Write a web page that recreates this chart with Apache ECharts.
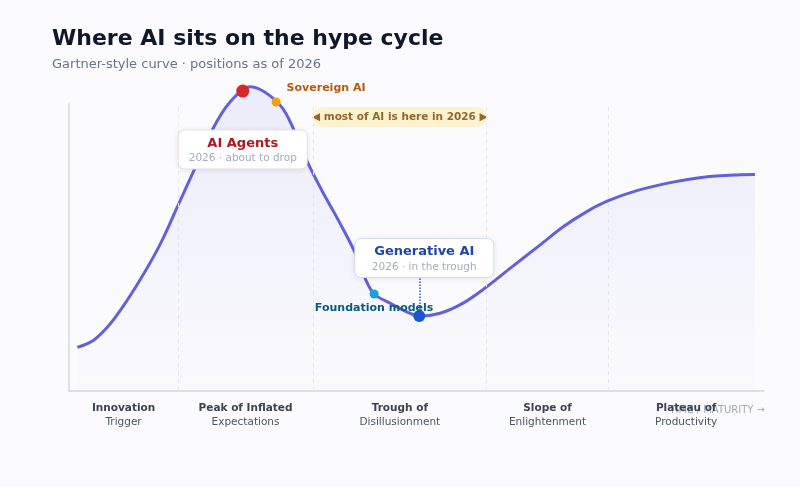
<!DOCTYPE html>
<html>
<head>
<meta charset="utf-8">
<script src="https://cdn.jsdelivr.net/npm/echarts@6/dist/echarts.min.js"></script>
<style>
  html, body { margin: 0; padding: 0; background: #fbfbfd; }
  #chart { width: 800px; height: 487px; }
</style>
</head>
<body>
<div id="chart"></div>
<script>
// phases along the time axis (0..100)
const phaseNames = [
  ['Innovation', 'Trigger'],
  ['Peak of Inflated', 'Expectations'],
  ['Trough of', 'Disillusionment'],
  ['Slope of', 'Enlightenment'],
  ['Plateau of', 'Productivity']
];
const phaseBounds = [15.7, 35.1, 60.1, 77.6];

// hype curve
const curveX = [1.2, 3.6, 6.0, 8.4, 10.8, 13.2, 15.6, 18.0, 20.6, 23.0, 26.1, 28.8, 31.2, 34.4, 36.6, 39.0, 41.2, 42.6, 43.9, 46.2, 48.6, 50.4, 53.4, 56.7, 60.1, 63.5, 67.8, 71.1, 74.5, 77.6, 81.7, 86.5, 91.3, 96.1, 98.7];
const curveY = [0.152, 0.178, 0.236, 0.317, 0.410, 0.515, 0.642, 0.770, 0.909, 1.002, 1.060, 1.031, 0.968, 0.793, 0.689, 0.584, 0.480, 0.393, 0.338, 0.306, 0.276, 0.261, 0.271, 0.306, 0.363, 0.428, 0.509, 0.572, 0.625, 0.663, 0.698, 0.726, 0.745, 0.753, 0.754];

// technologies placed on the curve
const techNames = ['AI Agents', 'Sovereign AI', 'Foundation models', 'Generative AI'];
const techX = [25.0, 29.8, 43.9, 50.4];
const techY = [1.045, 1.007, 0.338, 0.261];
const techNotes = ['2026 · about to drop', '', '', '2026 · in the trough'];

const bandText = '◀ most of AI is here in 2026 ▶';
const axisTitle = 'TIME / MATURITY →';

(()=>{
  const chart = echarts.init(document.getElementById('chart'));
  const font = 'DejaVu Sans, sans-serif';

  const edges = [0].concat(phaseBounds, [100]);
  const phaseCenters = phaseNames.map((p, i)=> (edges[i] + edges[i + 1]) / 2);

  const colors = ['#dc2626', '#f29e12', '#16a3dc', '#1d55d8'];
  const sizes = [13, 9, 9, 12];

  const callout = (title, note, tColor, bColor, pos, w)=>({
    show: true,
    position: pos,
    distance: 33,
    formatter: `{t|${title}}\n{s|${note}}`,
    backgroundColor: '#ffffff',
    borderColor: bColor,
    borderWidth: 1,
    borderRadius: 6,
    padding: [5, 12, 3, 12],
    width: w,
    align: 'center',
    shadowBlur: 6,
    shadowColor: 'rgba(30,40,80,0.08)',
    shadowOffsetY: 1,
    rich: {
      t: { fontFamily: font, fontSize: 13, fontWeight: 'bold', color: tColor, lineHeight: 16, align: 'center' },
      s: { fontFamily: font, fontSize: 10.5, color: '#a3abba', lineHeight: 14, align: 'center' }
    }
  });

  const labels = [
    callout(techNames[0], techNotes[0], '#b3171e', '#efe6e8', 'bottom', 104),
    { show: true, position: 'right', distance: 6, offset: [0, -14], formatter: techNames[1],
      fontFamily: font, fontSize: 11, fontWeight: 'bold', color: '#b45a0e' },
    { show: true, position: 'bottom', distance: 4, formatter: techNames[2],
      fontFamily: font, fontSize: 11, fontWeight: 'bold', color: '#0b5a82' },
    Object.assign(callout(techNames[3], techNotes[3], '#1e44ad', '#dbe4f4', 'top', 114), { offset: [5, 0] })
  ];

  const techData = techNames.map((n, i)=>({
    name: n,
    value: [techX[i], techY[i]],
    symbolSize: sizes[i],
    itemStyle: { color: colors[i], opacity: 1 },
    label: labels[i]
  }));

  // dotted connectors from dot to its callout box
  const connectors = [
    [{ coord: [techX[0], techY[0]] }, { coord: [techX[0], techY[0] - 0.14] }],
    [{ coord: [techX[3], techY[3]] }, { coord: [techX[3], techY[3] + 0.135] }]
  ];

  const option = {
    backgroundColor: '#fbfbfd',
    animation: false,
    title: {
      left: 47,
      top: 23,
      text: 'Where AI sits on the hype cycle',
      subtext: 'Gartner-style curve · positions as of 2026',
      itemGap: 8,
      textStyle: { fontFamily: font, fontSize: 22, fontWeight: 'bold', color: '#0f172a' },
      subtextStyle: { fontFamily: font, fontSize: 13, color: '#64748b' }
    },
    graphic: [{
      type: 'text',
      right: 35,
      top: 405,
      silent: true,
      style: { text: axisTitle, fontFamily: font, fontSize: 10, fill: '#a0a8b8' }
    }],
    grid: { left: 69, right: 36, top: 104, bottom: 96, containLabel: false, outerBoundsMode: 'none' },
    xAxis: {
      type: 'value',
      min: 0,
      max: 100,
      axisLine: { lineStyle: { color: '#d4d8e0', width: 1.5 } },
      axisTick: { show: false },
      splitLine: { show: false },
      axisLabel: {
        customValues: phaseCenters,
        margin: 10,
        formatter: (v)=>{
          let k = 0;
          phaseCenters.forEach((c, i)=>{ if(Math.abs(c - v) < Math.abs(phaseCenters[k] - v)) k = i; });
          return `{b|${phaseNames[k][0]}}\n{r|${phaseNames[k][1]}}`;
        },
        rich: {
          b: { fontFamily: font, fontSize: 10.5, fontWeight: 'bold', color: '#3b4252', lineHeight: 14 },
          r: { fontFamily: font, fontSize: 10.5, color: '#4b5563', lineHeight: 14 }
        }
      }
    },
    yAxis: {
      type: 'value',
      min: 0,
      max: 1,
      axisLine: { show: true, lineStyle: { color: '#d4d8e0', width: 1.5 } },
      axisTick: { show: false },
      axisLabel: { show: false },
      splitLine: { show: false }
    },
    series: [
      {
        name: 'hype',
        type: 'line',
        data: curveX.map((x, i)=>[x, curveY[i]]),
        smooth: 0.33,
        clip: false,
        showSymbol: false,
        z: 3,
        lineStyle: { color: '#6361d6', width: 3 },
        areaStyle: {
          color: new echarts.graphic.LinearGradient(0, 0, 0, 1, [
            { offset: 0, color: 'rgba(99,98,225,0.14)' },
            { offset: 1, color: 'rgba(99,98,225,0.01)' }
          ])
        },
        markLine: {
          silent: true,
          symbol: 'none',
          label: { show: false },
          lineStyle: { color: '#e4e6ee', type: [4, 4], width: 1 },
          data: phaseBounds.map((v)=>({ xAxis: v }))
        }
      },
      {
        name: 'band',
        type: 'scatter',
        silent: true,
        clip: false,
        symbolSize: 0,
        z: 4,
        data: [[phaseCenters[2], 0.955]],
        label: {
          show: true,
          position: 'inside',
          formatter: bandText,
          fontFamily: font,
          fontSize: 10.5,
          fontWeight: 'bold',
          color: '#774305',
          backgroundColor: '#fdf0c3',
          borderRadius: 10,
          padding: [5, 0, 4, 0],
          width: 174,
          align: 'center'
        }
      },
      {
        name: 'tech',
        type: 'scatter',
        clip: false,
        z: 6,
        itemStyle: { opacity: 1 },
        data: techData,
        markLine: {
          silent: true,
          symbol: 'none',
          label: { show: false },
          lineStyle: { type: 'dotted', width: 1.5 },
          data: connectors.map((c, i)=>c.map((p)=>Object.assign({}, p, { lineStyle: { color: i ? '#2a5bc8' : '#c2364a' } })))
        }
      }
    ]
  };

  chart.setOption(option);
})();
</script>
</body>
</html>
